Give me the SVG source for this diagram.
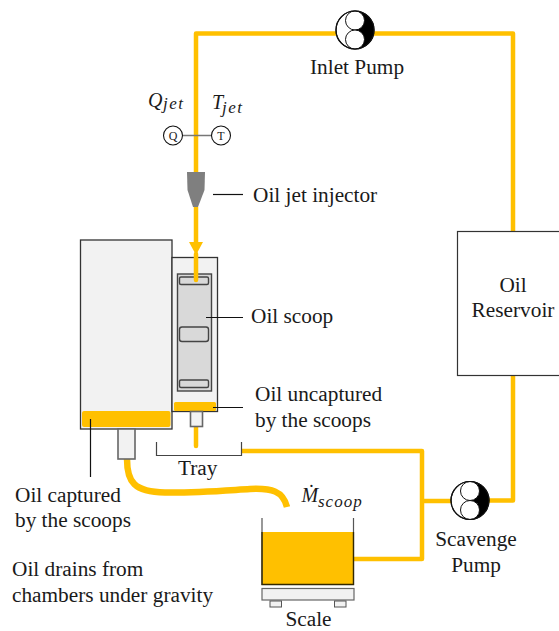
<svg xmlns="http://www.w3.org/2000/svg" xmlns:xlink="http://www.w3.org/1999/xlink" width="559" height="631" viewBox="0 0 559 631">
<style>
text{font-family:"Liberation Serif","Times New Roman",serif;font-size:21.300px;fill:#1a1a1a}
.m{font-style:italic;font-size:20px}
.s{font-style:italic;font-size:17px;letter-spacing:1.500px}
.c{text-anchor:middle}
.pipe{fill:none;stroke:#ffc000;stroke-width:4.500;stroke-linejoin:round}
.lead{fill:none;stroke:#111;stroke-width:1.200}
.box{fill:#f2f2f2;stroke:#333;stroke-width:1.300}
.grey{fill:#f2f2f2;stroke:#666;stroke-width:1.600}
.oil{fill:#ffc000}
.r{fill:none;stroke:#444;stroke-width:1.400}
</style>
<defs>
<g id="pump">
<circle r="19" fill="#fff" stroke="#111" stroke-width="1.200"/>
<path d="M0-19A19 19 0 0 1 0 19Z" fill="#000"/>
<circle cy="-9.500" r="9.500" fill="#fff" stroke="#111" stroke-width="1"/>
<circle cy="9.500" r="9.500" fill="#fff" stroke="#111" stroke-width="1"/>
<circle r="19" fill="none" stroke="#111" stroke-width="1.200"/>
</g>
</defs>
<g id="connectors">
<path class="pipe" d="M196 173V33.500H513V232"/>
<path class="pipe" d="M513 375V500.500H489"/>
<path class="pipe" d="M451 501H422"/>
<path class="pipe" d="M241 451H422V559H353"/>
<path class="pipe" d="M196 207V243"/>
<path class="oil" d="M189 242H203L196 255Z"/>
<path class="pipe" d="M196 427V446" stroke-linecap="round"/>
<path d="M127 459C127 482 134 492 165 492.500C195 493 225 490.500 250 489C272 488 283 491 287 507" fill="none" stroke="#ffc000" stroke-width="6.500"/>
<path d="M162 305.500H178C186 305 193 298 196 288" fill="none" stroke="#ffc000" stroke-width="4" stroke-dasharray="3.500 4.200"/>
<path d="M164 135.500H230" stroke="#777" stroke-width="1.400"/>
<path class="lead" d="M213 194.500H243"/>
<path d="M156.500 442V455.500H241.500V442" fill="none" stroke="#444" stroke-width="1.200"/>
</g>
<g id="inlet-pump">
<use xlink:href="#pump" href="#pump" x="355" y="30"/>
<text class="c" x="357" y="74">Inlet Pump</text>
</g>
<g id="q-sensor">
<circle cx="173" cy="135.500" r="9.500" fill="#fff" stroke="#111" stroke-width="1.100"/>
<text class="c" x="173" y="140" style="font-size:12px">Q</text>
<text class="m" x="148" y="107">Q</text>
<text class="s" x="163" y="109">jet</text>
</g>
<g id="t-sensor">
<circle cx="221" cy="135.500" r="9.500" fill="#fff" stroke="#111" stroke-width="1.100"/>
<text class="c" x="221" y="140" style="font-size:12px">T</text>
<text class="m" x="212" y="109">T</text>
<text class="s" x="222" y="113">jet</text>
</g>
<g id="injector">
<path d="M187 172H205L204.500 190L198 207H193L187.500 190Z" fill="#7f7f7f"/>
<text x="253" y="201.500">Oil jet injector</text>
</g>
<g id="chamber">
<rect class="box" x="80.500" y="240" width="91.500" height="189"/>
<rect class="oil" x="82" y="411" width="88.500" height="16" rx="2"/>
<rect class="grey" x="118" y="429" width="17" height="30"/>
</g>
<g id="scoop-tray">
<rect class="box" x="172" y="257.500" width="45.500" height="154"/>
<rect x="177.500" y="274" width="34" height="117" fill="#d9d9d9" stroke="#444" stroke-width="1.400"/>
<rect class="r" x="179.500" y="277" width="29" height="7.500" rx="1.500"/>
<rect class="r" x="179.500" y="327" width="29" height="14.500" rx="2.500"/>
<rect class="r" x="179.500" y="380" width="29" height="7.500" rx="1.500"/>
<rect class="oil" x="174" y="402" width="42" height="9" rx="1.500"/>
<rect class="grey" x="190.500" y="411.500" width="12" height="15"/>
</g>
<path class="pipe" d="M196 254V280" stroke-linecap="round"/>
<path class="lead" d="M206 317.500H243M213 407.500H243M90.500 419V477"/>
<g id="reservoir">
<rect x="457.500" y="231.500" width="103" height="144" fill="#fff" stroke="#333" stroke-width="1.200"/>
<text class="c" x="513" y="292">Oil</text>
<text class="c" x="513" y="317">Reservoir</text>
</g>
<g id="scavenge-pump">
<use xlink:href="#pump" href="#pump" x="470" y="500.500"/>
<text class="c" x="476" y="546">Scavenge</text>
<text class="c" x="476" y="572">Pump</text>
</g>
<g id="beaker">
<rect class="oil" x="262" y="532" width="91.500" height="52.500"/>
<path d="M262 518V584.500H353.500V518" fill="none" stroke="#555" stroke-width="1.200"/>
<path d="M262 532V584.500H353.500V532" fill="none" stroke="#332800" stroke-width="1.300"/>
<text class="m" x="301.500" y="502">Ṁ</text>
<text class="s" x="318" y="507" style="letter-spacing:1px">scoop</text>
</g>
<g id="scale">
<rect x="262" y="588.500" width="92" height="11.500" fill="#f2f2f2" stroke="#666" stroke-width="1.200"/>
<rect x="270" y="601" width="11.500" height="6" fill="#f2f2f2" stroke="#555" stroke-width="1"/>
<rect x="334.500" y="601" width="11.500" height="6" fill="#f2f2f2" stroke="#555" stroke-width="1"/>
<text class="c" x="308.500" y="626">Scale</text>
</g>
<g id="labels">
<text x="251" y="322.500">Oil scoop</text>
<text x="255" y="400.500">Oil uncaptured</text>
<text x="255" y="426.500">by the scoops</text>
<text x="178" y="474.500">Tray</text>
<text x="15" y="501.500">Oil captured</text>
<text x="15" y="526.500">by the scoops</text>
<text x="12" y="575.500">Oil drains from</text>
<text x="12" y="601.500">chambers under gravity</text>
</g>
</svg>
